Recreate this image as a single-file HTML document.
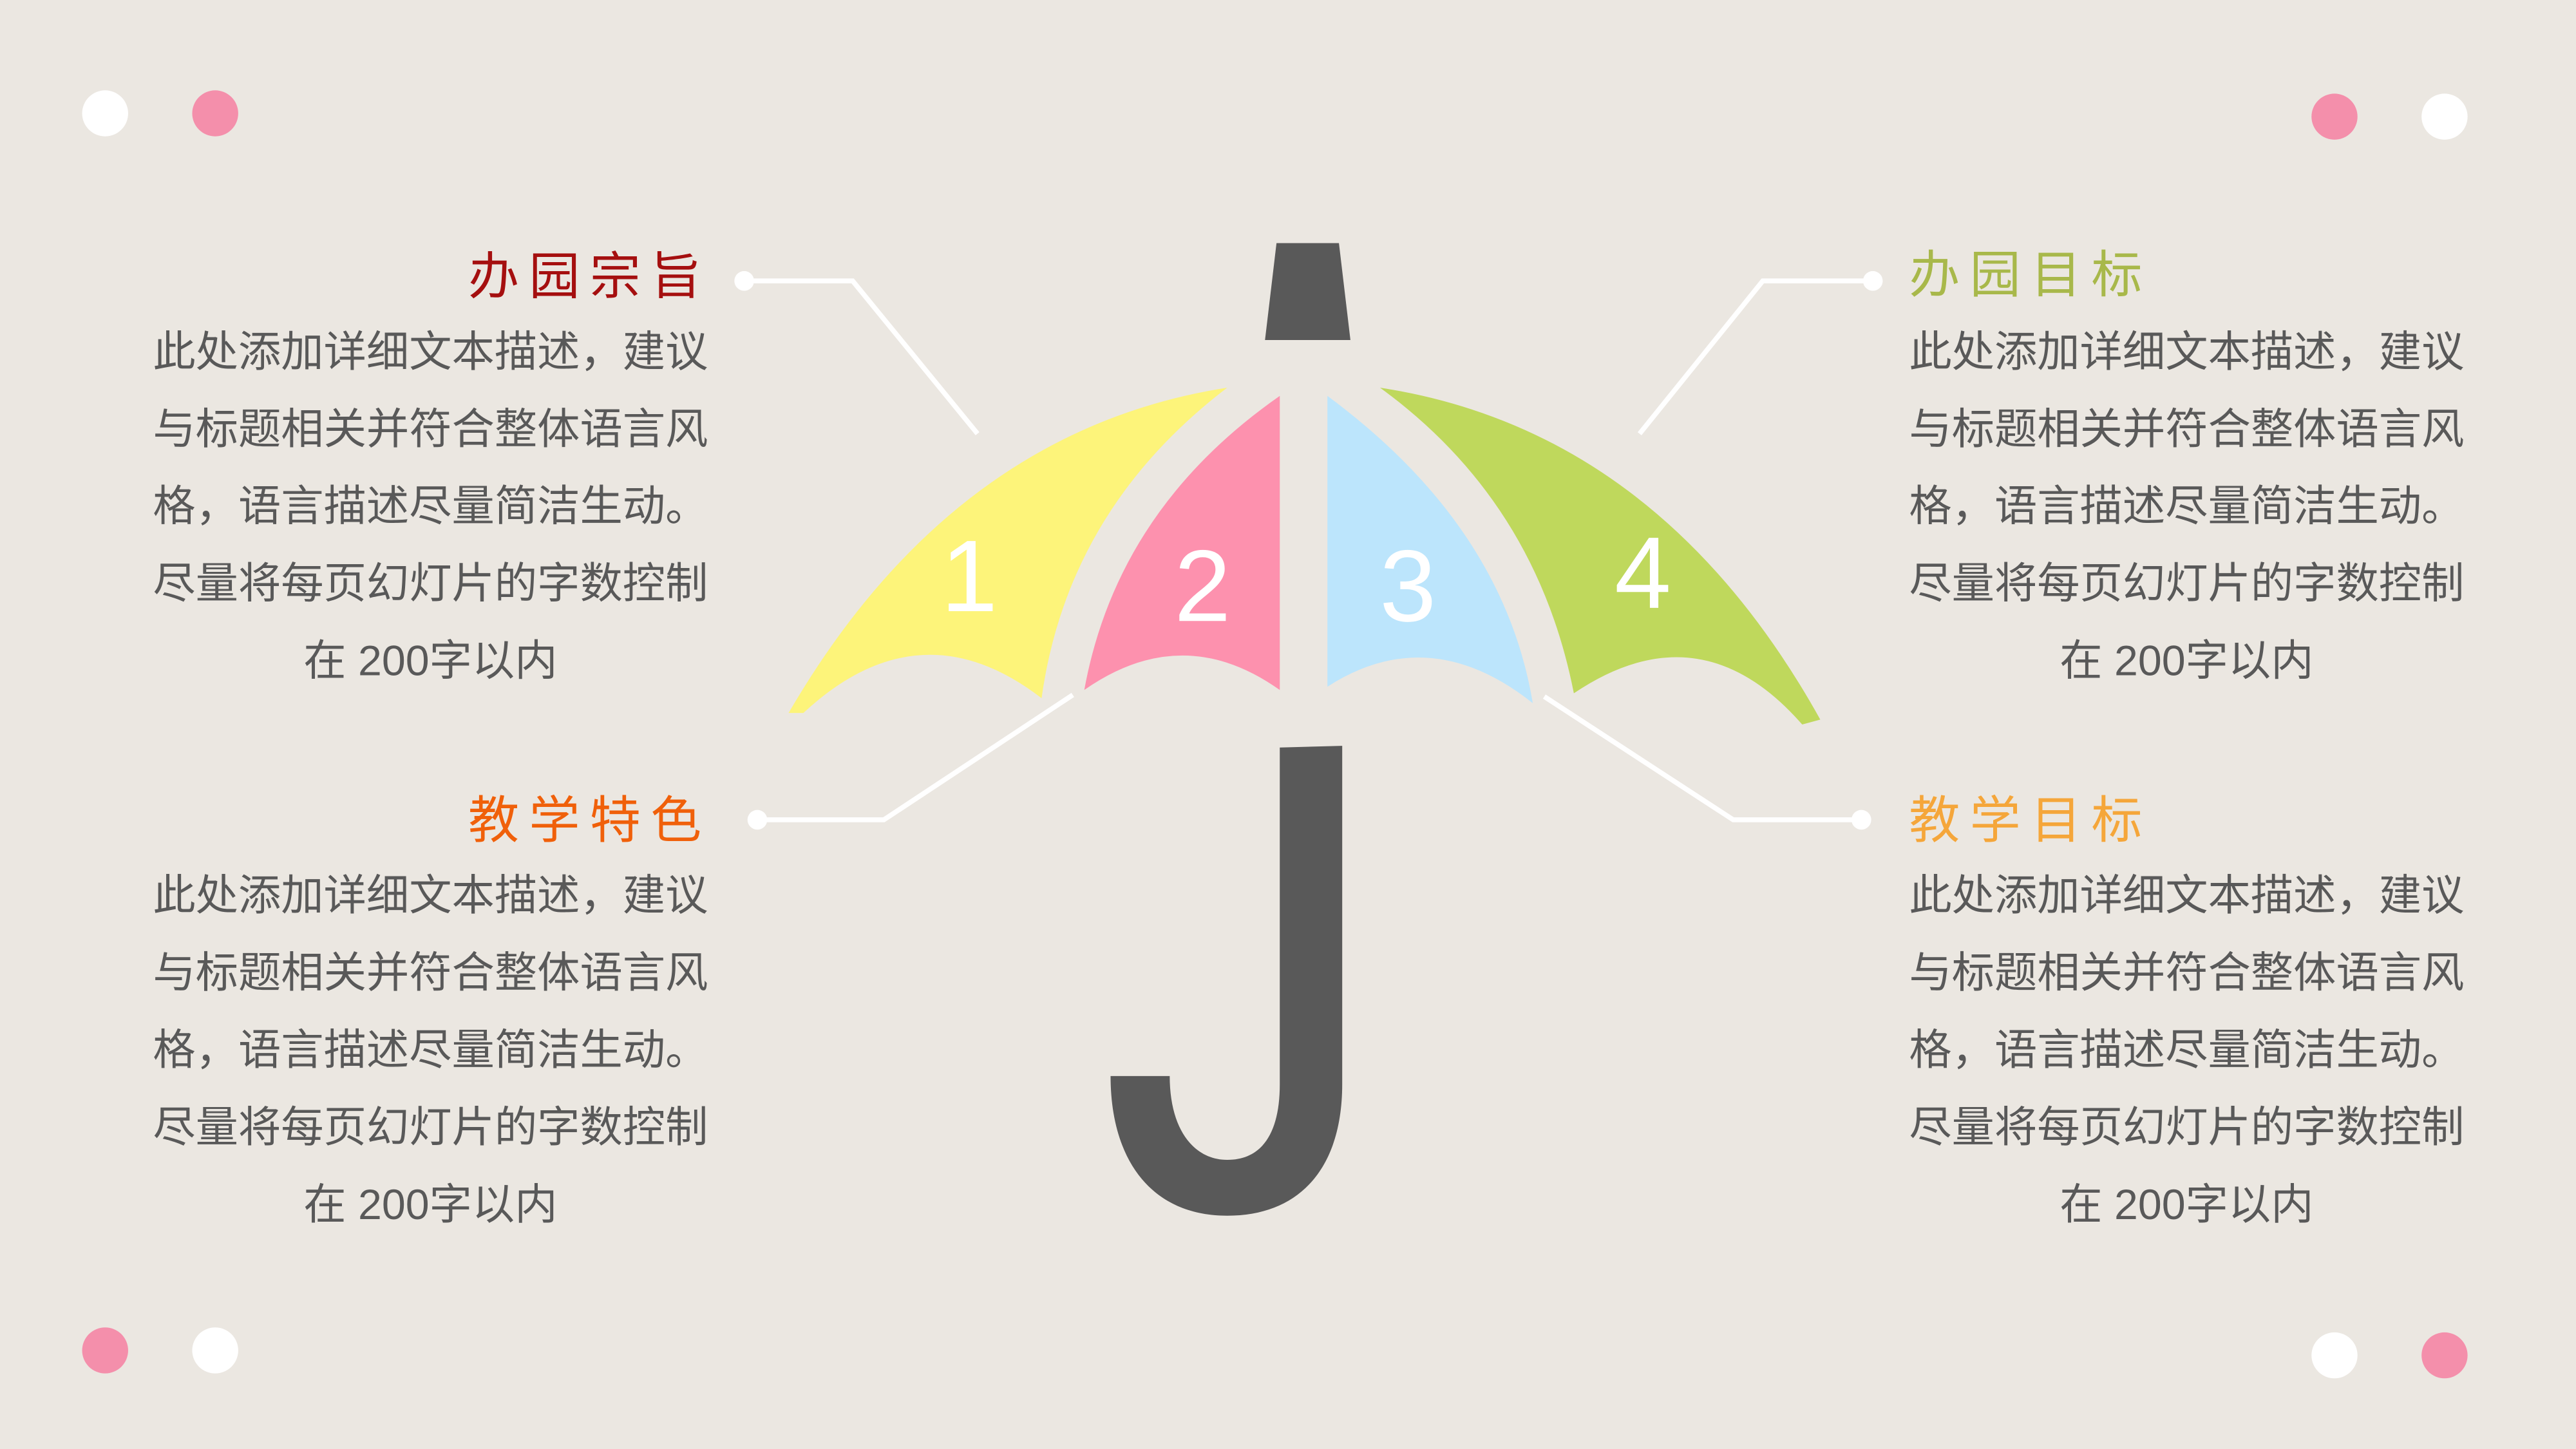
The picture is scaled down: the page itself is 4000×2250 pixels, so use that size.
<!DOCTYPE html>
<html><head><meta charset="utf-8"><style>
html,body{margin:0;padding:0;background:#ebe7e1;}
svg{display:block;}
text{font-family:"Liberation Sans","Noto Sans CJK SC",sans-serif;}
</style></head><body>
<svg width="4000" height="2250" viewBox="0 0 1568 882" xmlns="http://www.w3.org/2000/svg">
<rect width="1568" height="882" fill="#ebe7e1"/>
<g>
<circle cx="64" cy="69" r="14" fill="#fff"/><circle cx="131" cy="69" r="14" fill="#f48fab"/>
<circle cx="1421" cy="71" r="14" fill="#f48fab"/><circle cx="1488" cy="71" r="14" fill="#fff"/>
<circle cx="64" cy="822" r="14" fill="#f48fab"/><circle cx="131" cy="822" r="14" fill="#fff"/>
<circle cx="1421" cy="825" r="14" fill="#fff"/><circle cx="1488" cy="825" r="14" fill="#f48fab"/>
</g>
<g stroke="#fff" stroke-width="3" fill="none">
<polyline points="453,171 519,171 595,264"/>
<polyline points="461,499 538,499 653,423"/>
<polyline points="1140,171 1073,171 998,264"/>
<polyline points="1133,499 1055,499 940,424"/>
</g>
<g fill="#fff"><circle cx="453" cy="171" r="6"/><circle cx="461" cy="499" r="6"/><circle cx="1140" cy="171" r="6"/><circle cx="1133" cy="499" r="6"/></g>
<g>
<path d="M777,148 L815,148 L822,207 L770,207 Z" fill="#595959"/>
<path d="M747,236 Q580,262 480,434 L489,434 Q560,368 634,425 Q650,310 747,236 Z" fill="#fdf47a"/>
<path d="M779,241 L779,420 Q720,378 660,420 Q680,310 779,241 Z" fill="#fd91ae"/>
<path d="M808,241 L808,418 Q870,378 933,428 Q915,320 808,241 Z" fill="#bce5fc"/>
<path d="M840,236 Q1010,262 1108,438 L1097,441 Q1035,370 958,422 Q935,305 840,236 Z" fill="#bfd85c"/>
<path d="M817,454 L817,660 C817,710 792,740 747,740 C700,740 676,705 676,655 L712,655 C712,688 727,706 747,706 C768,706 779,690 779,660 L779,455 Z" fill="#595959"/>
<g fill="#fff" font-size="62" text-anchor="middle">
<text x="590" y="372">1</text><text x="732" y="378">2</text><text x="857" y="378">3</text><text x="1000" y="370">4</text>
</g>
</g>
<g font-size="26" fill="#595959" text-anchor="middle">
<g>
<text x="433" y="179" font-size="31" fill="#a50f0f" text-anchor="end" letter-spacing="6">办园宗旨</text>
<text x="262" y="223">此处添加详细文本描述，建议</text>
<text x="262" y="270">与标题相关并符合整体语言风</text>
<text x="262" y="317">格，语言描述尽量简洁生动。</text>
<text x="262" y="364">尽量将每页幻灯片的字数控制</text>
<text x="262" y="411">在  200字以内</text>
</g>
<g>
<text x="433" y="510" font-size="31" fill="#f0600a" text-anchor="end" letter-spacing="6">教学特色</text>
<text x="262" y="554">此处添加详细文本描述，建议</text>
<text x="262" y="601">与标题相关并符合整体语言风</text>
<text x="262" y="648">格，语言描述尽量简洁生动。</text>
<text x="262" y="695">尽量将每页幻灯片的字数控制</text>
<text x="262" y="742">在  200字以内</text>
</g>
<g>
<text x="1162" y="178" font-size="31" fill="#a8b84a" text-anchor="start" letter-spacing="6">办园目标</text>
<text x="1331" y="223">此处添加详细文本描述，建议</text>
<text x="1331" y="270">与标题相关并符合整体语言风</text>
<text x="1331" y="317">格，语言描述尽量简洁生动。</text>
<text x="1331" y="364">尽量将每页幻灯片的字数控制</text>
<text x="1331" y="411">在  200字以内</text>
</g>
<g>
<text x="1162" y="510" font-size="31" fill="#f5a63a" text-anchor="start" letter-spacing="6">教学目标</text>
<text x="1331" y="554">此处添加详细文本描述，建议</text>
<text x="1331" y="601">与标题相关并符合整体语言风</text>
<text x="1331" y="648">格，语言描述尽量简洁生动。</text>
<text x="1331" y="695">尽量将每页幻灯片的字数控制</text>
<text x="1331" y="742">在  200字以内</text>
</g>
</g>
</svg>
</body></html>
